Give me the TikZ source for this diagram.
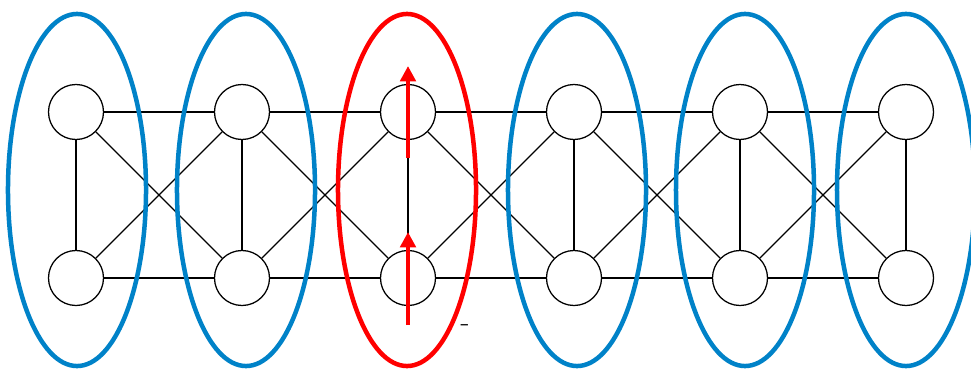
\documentclass[tikz,border=0pt]{standalone}
\usepackage{xcolor}
\usepackage{tikz}
\usetikzlibrary{shapes.geometric, arrows.meta, positioning}
\definecolor{grpblue}{RGB}{0,130,200}
\definecolor{selred}{RGB}{255,0,0}

\begin{document}
\begin{tikzpicture}[
  x=0.025cm, y=-0.025cm,
  site/.style={circle, draw=black, fill=white, line width=0.9pt,
               minimum size=1.375cm, inner sep=0pt},
  bond/.style={draw=black, line width=0.9pt},
  grp/.style={ellipse, draw=grpblue, line width=3.2pt,
              minimum width=3.45cm, minimum height=8.8cm, inner sep=0pt},
  sel/.style={grp, draw=selred},
  spin/.style={-{Triangle[length=11pt, width=11pt]}, line width=2.8pt, color=selred},
  note/.style={font=\huge, color=black, inner sep=0pt},
]
\useasboundingbox (0,0) rectangle (971,368);

% sites
\node[site] (t1) at (76,112)  {};
\node[site] (t2) at (242,112) {};
\node[site] (t3) at (408,112) {};
\node[site] (t4) at (574,112) {};
\node[site] (t5) at (740,112) {};
\node[site] (t6) at (906,112) {};
\node[site] (b1) at (76,278)  {};
\node[site] (b2) at (242,278) {};
\node[site] (b3) at (408,278) {};
\node[site] (b4) at (574,278) {};
\node[site] (b5) at (740,278) {};
\node[site] (b6) at (906,278) {};

% rungs
\draw[bond] (t1) -- (b1);
\draw[bond] (t2) -- (b2);
\draw[bond] (t3) -- (b3);
\draw[bond] (t4) -- (b4);
\draw[bond] (t5) -- (b5);
\draw[bond] (t6) -- (b6);

% legs
\draw[bond] (t1) -- (t2);
\draw[bond] (t2) -- (t3);
\draw[bond] (t3) -- (t4);
\draw[bond] (t4) -- (t5);
\draw[bond] (t5) -- (t6);
\draw[bond] (b1) -- (b2);
\draw[bond] (b2) -- (b3);
\draw[bond] (b3) -- (b4);
\draw[bond] (b4) -- (b5);
\draw[bond] (b5) -- (b6);

% diagonals
\draw[bond] (t1) -- (b2);
\draw[bond] (b1) -- (t2);
\draw[bond] (t2) -- (b3);
\draw[bond] (b2) -- (t3);
\draw[bond] (t3) -- (b4);
\draw[bond] (b3) -- (t4);
\draw[bond] (t4) -- (b5);
\draw[bond] (b4) -- (t5);
\draw[bond] (t5) -- (b6);
\draw[bond] (b5) -- (t6);

% rung groups
\node[grp] (g1) at (77,190)  {};
\node[grp] (g2) at (246,190) {};
\node[sel] (g3) at (407,190) {};
\node[grp] (g4) at (577,190) {};
\node[grp] (g5) at (745,190) {};
\node[grp] (g6) at (906,190) {};

% spins on the selected rung
\coordinate (s1) at (408,325);
\coordinate (s2) at (408,232);
\coordinate (s3) at (408,158);
\coordinate (s4) at (408,66);
\draw[spin] (s1) -- (s2);
\draw[spin] (s3) -- (s4);

\node[note] (minus) at (465,328) {-};

\end{tikzpicture}
\end{document}
